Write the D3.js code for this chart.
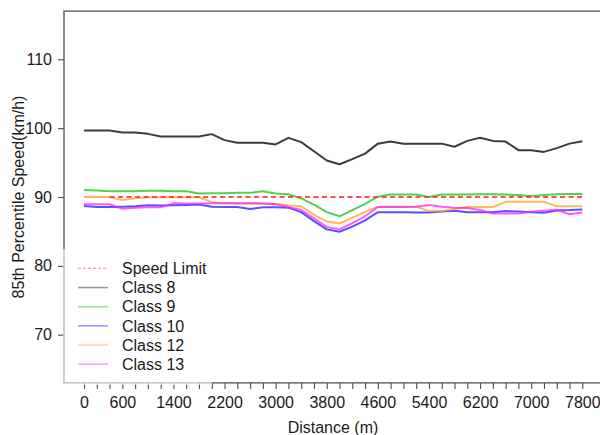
<!DOCTYPE html>
<html>
<head>
<meta charset="utf-8">
<script src="https://cdn.jsdelivr.net/npm/d3@7/dist/d3.min.js"></script>
<style>
  html, body { margin: 0; padding: 0; background: #fff; }
  svg { display: block; font-family: "Liberation Sans", Arial, sans-serif; }
</style>
</head>
<body>
<svg id="chart" width="600" height="435"></svg>
<script>
// Distance along the corridor (m)
const distance = [0, 200, 400, 600, 800, 1000, 1200, 1400, 1600, 1800,
  2000, 2200, 2400, 2600, 2800, 3000, 3200, 3400, 3600, 3800,
  4000, 4200, 4400, 4600, 4800, 5000, 5200, 5400, 5600, 5800,
  6000, 6200, 6400, 6600, 6800, 7000, 7200, 7400, 7600, 7800];

// 85th percentile speeds (km/h) by vehicle class
const class8 = [99.67, 99.67, 99.67, 99.38, 99.38, 99.17, 98.8, 98.8, 98.8, 98.8,
  99.13, 98.26, 97.87, 97.87, 97.87, 97.63, 98.59, 97.97, 96.65, 95.3,
  94.75, 95.5, 96.3, 97.75, 98.05, 97.75, 97.75, 97.75, 97.75, 97.3,
  98.15, 98.6, 98.15, 98.05, 96.8, 96.8, 96.55, 97.1, 97.75, 98.1];
const class9 = [91.0, 90.95, 90.85, 90.85, 90.85, 90.9, 90.9, 90.85, 90.85, 90.5,
  90.55, 90.55, 90.6, 90.6, 90.85, 90.5, 90.4, 89.8, 88.9, 87.8,
  87.2, 88.1, 89.0, 90.05, 90.35, 90.35, 90.35, 90.0, 90.35, 90.35,
  90.35, 90.4, 90.4, 90.35, 90.3, 90.1, 90.3, 90.4, 90.45, 90.45];
const class10 = [88.7, 88.55, 88.55, 88.6, 88.65, 88.8, 88.75, 88.8, 88.85, 88.9,
  88.6, 88.55, 88.55, 88.25, 88.5, 88.5, 88.45, 87.8, 86.5, 85.3,
  84.95, 85.7, 86.6, 87.8, 87.8, 87.8, 87.75, 87.75, 87.9, 88.0,
  87.8, 87.8, 87.8, 87.95, 87.9, 87.8, 87.7, 88.05, 88.1, 88.2];
const class12 = [90.0, 90.0, 90.0, 89.55, 89.8, 89.95, 89.95, 89.95, 89.95, 89.95,
  89.25, 89.1, 89.05, 89.05, 89.05, 89.0, 88.8, 88.65, 87.4, 86.45,
  86.15, 87.0, 87.85, 88.6, 88.6, 88.6, 88.6, 87.95, 87.95, 88.25,
  88.55, 88.55, 88.55, 89.3, 89.3, 89.3, 89.3, 88.65, 88.65, 88.65];
const class13 = [88.95, 88.95, 88.95, 88.3, 88.45, 88.5, 88.5, 89.1, 89.05, 89.05,
  89.1, 89.1, 89.1, 89.1, 89.05, 88.95, 88.55, 88.1, 86.9, 85.65,
  85.3, 86.2, 87.2, 88.55, 88.55, 88.55, 88.6, 88.85, 88.6, 88.45,
  88.4, 88.1, 87.6, 87.6, 87.6, 87.85, 88.0, 88.15, 87.5, 87.75];

// Posted speed limit (km/h) and the stretch it is drawn over (m)
const speedLimit = [90, 90];
const speedLimitDistance = [400, 7800];

// Axis ticks
const xTicks = distance;
const xTickLabels = [0, 600, 1400, 2200, 3000, 3800, 4600, 5400, 6200, 7000, 7800];
const yTicks = [70, 80, 90, 100, 110];

const series = [
  { name: "Class 8",  values: class8,  color: "#1a1a1a" },
  { name: "Class 9",  values: class9,  color: "#11c411" },
  { name: "Class 10", values: class10, color: "#1a1aff" },
  { name: "Class 12", values: class12, color: "#ffa21f" },
  { name: "Class 13", values: class13, color: "#ff22ff" }
];

const svg = d3.select("#chart");
const frameColor = "#4d4d4d";

const x = d3.scaleLinear().domain([0, 7800]).range([84, 582.3]);
const y = d3.scaleLinear().domain([63, 117]).range([382.9, 11.1]);

// Plot frame (the right edge lies outside the drawing area)
svg.append("path")
  .attr("d", `M620,${y(117)}H${x.range()[0] - 20}V${y(63)}H620`)
  .attr("fill", "none")
  .attr("stroke", frameColor)
  .attr("stroke-width", 1.3);

// Axes
const xAxis = d3.axisBottom(x)
  .tickValues(xTicks)
  .tickSize(6)
  .tickPadding(7.3)
  .tickFormat(d => xTickLabels.includes(d) ? String(d) : "");
const gx = svg.append("g").attr("transform", `translate(0,${y(63)})`).call(xAxis);
gx.select(".domain").remove();
gx.selectAll(".tick line").attr("stroke", frameColor).attr("stroke-width", 1.1);
gx.selectAll(".tick text").attr("fill", "#1a1a1a").attr("font-size", 16);

const yAxis = d3.axisLeft(y).tickValues(yTicks).tickSize(6).tickPadding(6);
const gy = svg.append("g").attr("transform", `translate(${x.range()[0] - 20},0)`).call(yAxis);
gy.select(".domain").remove();
gy.selectAll(".tick line").attr("stroke", frameColor).attr("stroke-width", 1.1);
gy.selectAll(".tick text").attr("fill", "#1a1a1a").attr("font-size", 16);

// Axis titles
svg.append("text")
  .attr("x", 333).attr("y", 433)
  .attr("text-anchor", "middle")
  .attr("font-size", 16).attr("fill", "#1a1a1a")
  .text("Distance (m)");
svg.append("text")
  .attr("transform", `translate(24,197) rotate(-90)`)
  .attr("text-anchor", "middle")
  .attr("font-size", 16).attr("fill", "#1a1a1a")
  .text("85th Percentile Speed(km/h)");

// Series lines
const line = d3.line().x((d, i) => x(distance[i])).y(d => y(d));
series.forEach(s => {
  svg.append("path")
    .datum(s.values)
    .attr("d", line)
    .attr("fill", "none")
    .attr("stroke", s.color)
    .attr("stroke-opacity", s.name === "Class 8" ? 0.85 : 0.75)
    .attr("stroke-width", 2)
    .attr("stroke-linejoin", "round");
});

// Speed limit reference
const limitLine = d3.line().x((d, i) => x(speedLimitDistance[i])).y(d => y(d));
svg.append("path")
  .datum(speedLimit)
  .attr("d", limitLine)
  .attr("fill", "none")
  .attr("stroke", "#ff3030")
  .attr("stroke-opacity", 0.85)
  .attr("stroke-width", 2)
  .attr("stroke-dasharray", "5,3.5");

// Legend with a translucent white backing
svg.append("rect")
  .attr("x", 63).attr("y", 249)
  .attr("width", 149).attr("height", 136)
  .attr("fill", "#fff").attr("fill-opacity", 0.6);

const legendItems = [{ name: "Speed Limit", color: "#ff3030", dash: "3,2" }]
  .concat(series.map(s => ({ name: s.name, color: s.color, dash: null })));
const lg = svg.append("g");
legendItems.forEach((d, i) => {
  const yy = 268.4 + i * 19.15;
  lg.append("line")
    .attr("x1", 78).attr("x2", 108)
    .attr("y1", yy).attr("y2", yy)
    .attr("stroke", d.color)
    .attr("stroke-opacity", 0.45)
    .attr("stroke-width", d.dash ? 1.4 : 1.6)
    .attr("stroke-dasharray", d.dash);
  lg.append("text")
    .attr("x", 122).attr("y", yy)
    .attr("dy", "0.36em")
    .attr("font-size", 16).attr("fill", "#1a1a1a")
    .text(d.name);
});
</script>
</body>
</html>
